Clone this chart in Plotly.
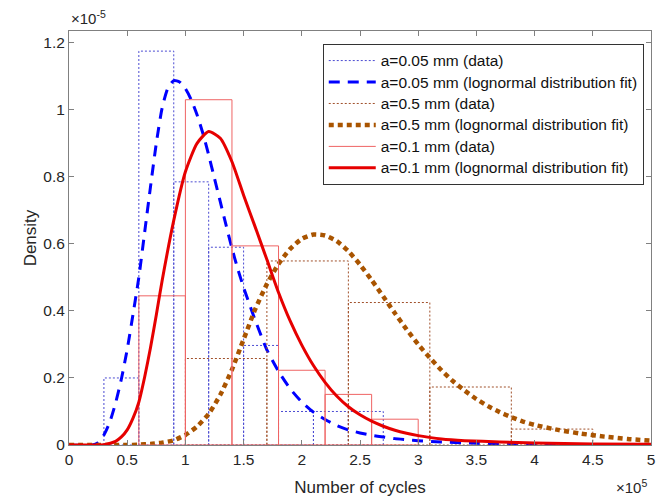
import plotly.graph_objects as go

# Histogram data (density in units of 1e-5, cycles in units of 1e5)
edges_a005 = [0.3, 0.6, 0.9, 1.2, 1.5, 1.8, 2.1, 2.4, 2.7]
dens_a005 = [0.20, 1.175, 0.785, 0.59, 0.297, 0.10, 0.10, 0.10]

edges_a05 = [1.0, 1.7, 2.4, 3.1, 3.8, 4.5]
dens_a05 = [0.258, 0.549, 0.425, 0.173, 0.0475]

edges_a01 = [0.6, 1.0, 1.4, 1.8, 2.2, 2.6, 3.0]
dens_a01 = [0.445, 1.03, 0.594, 0.223, 0.151, 0.077]

# Lognormal fit curves, sampled along the cycle axis
fit_a005_x = [0.0, 0.20, 0.25, 0.30, 0.35, 0.40, 0.45, 0.50, 0.55, 0.60, 0.65, 0.70, 0.75,
              0.80, 0.85, 0.90, 0.95, 1.00, 1.05, 1.10, 1.15, 1.20, 1.25, 1.30, 1.35, 1.40,
              1.45, 1.50, 1.55, 1.60, 1.70, 1.80, 1.90, 2.00, 2.10, 2.20, 2.30, 2.40, 2.50,
              2.60, 2.70, 2.80, 2.90, 3.00, 3.20, 3.50, 4.00, 4.50, 5.00]
fit_a005_y = [0.0, 0.0, 0.007, 0.03, 0.068, 0.125, 0.197, 0.285, 0.39, 0.50, 0.635, 0.77, 0.90,
              1.005, 1.065, 1.087, 1.083, 1.063, 1.03, 0.985, 0.93, 0.865, 0.795, 0.725, 0.655,
              0.587, 0.525, 0.47, 0.42, 0.372, 0.284, 0.220, 0.168, 0.128, 0.098, 0.076, 0.058,
              0.045, 0.036, 0.029, 0.024, 0.019, 0.016, 0.013, 0.009, 0.005, 0.002, 0.001, 0.0005]

fit_a05_x = [0.0, 0.5, 0.6, 0.7, 0.8, 0.9, 1.0, 1.1, 1.2, 1.3, 1.4, 1.5, 1.6, 1.7, 1.8, 1.9,
             2.0, 2.1, 2.2, 2.3, 2.4, 2.5, 2.6, 2.7, 2.8, 2.9, 3.0, 3.1, 3.2, 3.3, 3.4, 3.5,
             3.6, 3.7, 3.8, 3.9, 4.0, 4.2, 4.4, 4.6, 4.8, 5.0]
fit_a05_y = [0.0, 0.0, 0.001, 0.003, 0.007, 0.014, 0.030, 0.055, 0.093, 0.150, 0.225, 0.315,
             0.405, 0.480, 0.540, 0.585, 0.615, 0.628, 0.625, 0.608, 0.578, 0.538, 0.492,
             0.443, 0.393, 0.345, 0.300, 0.260, 0.223, 0.190, 0.162, 0.137, 0.116, 0.098,
             0.083, 0.070, 0.060, 0.045, 0.034, 0.025, 0.018, 0.013]

fit_a01_x = [0.0, 0.2, 0.3, 0.4, 0.45, 0.5, 0.55, 0.6, 0.65, 0.7, 0.75, 0.8, 0.9, 1.0, 1.1,
             1.2, 1.3, 1.4, 1.5, 1.6, 1.7, 1.8, 1.9, 2.0, 2.1, 2.2, 2.3, 2.4, 2.5, 2.6, 2.7,
             2.8, 2.9, 3.0, 3.2, 3.4, 3.7, 4.0, 4.5, 5.0]
fit_a01_y = [0.0, 0.0, 0.001, 0.011, 0.024, 0.045, 0.080, 0.128, 0.203, 0.29, 0.388, 0.49,
             0.67, 0.815, 0.90, 0.935, 0.915, 0.845, 0.745, 0.65, 0.553, 0.455, 0.37, 0.298,
             0.237, 0.187, 0.146, 0.114, 0.090, 0.071, 0.056, 0.044, 0.035, 0.028, 0.018,
             0.013, 0.009, 0.006, 0.003, 0.002]

x_ticks = [0, 0.5, 1, 1.5, 2, 2.5, 3, 3.5, 4, 4.5, 5]
x_tick_text = ["0", "0.5", "1", "1.5", "2", "2.5", "3", "3.5", "4", "4.5", "5"]
y_ticks = [0, 0.2, 0.4, 0.6, 0.8, 1.0, 1.2]
y_tick_text = ["0", "0.2", "0.4", "0.6", "0.8", "1", "1.2"]


def outline(edges, heights):
    """Closed rectangle outlines for each histogram bin, separated by gaps."""
    xs, ys = [], []
    for i, h in enumerate(heights):
        e0, e1 = edges[i], edges[i + 1]
        xs += [e0, e0, e1, e1, e0, None]
        ys += [0, h, h, 0, 0, None]
    return xs, ys


def entry(label):
    return '<span style="font-size:15.5px">' + label + "</span>"


FONT = "Liberation Sans, Arial, sans-serif"
TXT = "#262626"

fig = go.Figure()

hx, hy = outline(edges_a005, dens_a005)
fig.add_trace(go.Scatter(x=hx, y=hy, mode="lines", name=entry("a=0.05 mm (data)"),
                         line=dict(color="#4b4bd2", width=1, dash="2px,2px")))
fig.add_trace(go.Scatter(x=fit_a005_x, y=fit_a005_y, mode="lines", line_shape="spline",
                         name=entry("a=0.05 mm (lognormal distribution fit)"),
                         line=dict(color="#0000ff", width=3, dash="11px,8px", smoothing=0.6)))

hx, hy = outline(edges_a05, dens_a05)
fig.add_trace(go.Scatter(x=hx, y=hy, mode="lines", name=entry("a=0.5 mm (data)"),
                         line=dict(color="#a0502a", width=1, dash="2px,2px")))
fig.add_trace(go.Scatter(x=fit_a05_x, y=fit_a05_y, mode="lines", line_shape="spline",
                         name=entry("a=0.5 mm (lognormal distribution fit)"),
                         line=dict(color="#a95400", width=4.5, dash="5px,4px", smoothing=0.6)))

hx, hy = outline(edges_a01, dens_a01)
fig.add_trace(go.Scatter(x=hx, y=hy, mode="lines", name=entry("a=0.1 mm (data)"),
                         line=dict(color="#ef6464", width=1)))
fig.add_trace(go.Scatter(x=fit_a01_x, y=fit_a01_y, mode="lines", line_shape="spline",
                         name=entry("a=0.1 mm (lognormal distribution fit)"),
                         line=dict(color="#e60000", width=3, smoothing=0.6)))

axis_common = dict(
    showgrid=False, zeroline=False, showline=True, linecolor="#808080", linewidth=1,
    mirror="ticks", ticks="inside", ticklen=5, tickcolor="#808080", automargin=False,
    tickfont=dict(family=FONT, size=15.5, color=TXT),
)

fig.update_layout(
    width=672, height=501,
    margin=dict(l=69, r=21, t=31, b=56),
    paper_bgcolor="white", plot_bgcolor="white",
    font=dict(family=FONT, color=TXT),
    xaxis=dict(range=[0, 5], tickvals=x_ticks, ticktext=x_tick_text,
               title=dict(text="Number of cycles", font=dict(family=FONT, size=17, color=TXT),
                          standoff=14),
               **axis_common),
    yaxis=dict(range=[0, 1.235], tickvals=y_ticks, ticktext=y_tick_text,
               title=dict(text="Density", font=dict(family=FONT, size=17, color=TXT),
                          standoff=2),
               **axis_common),
    legend=dict(x=0.436, y=0.969, xanchor="left", yanchor="top",
                bgcolor="white", bordercolor="#333333", borderwidth=1,
                font=dict(family=FONT, size=14.2, color="#111111"),
                itemwidth=47, tracegroupgap=0),
    showlegend=True,
)

fig.add_annotation(text="×10<sup>-5</sup>", xref="paper", yref="paper",
                   x=0, y=1, xanchor="left", yanchor="bottom", yshift=2, showarrow=False,
                   font=dict(family=FONT, size=15, color=TXT))
fig.add_annotation(text="×10<sup>5</sup>", xref="paper", yref="paper",
                   x=1, y=0, xanchor="right", yanchor="top", yshift=-30, xshift=-2,
                   showarrow=False, font=dict(family=FONT, size=15, color=TXT))

fig.write_html("out.html")
